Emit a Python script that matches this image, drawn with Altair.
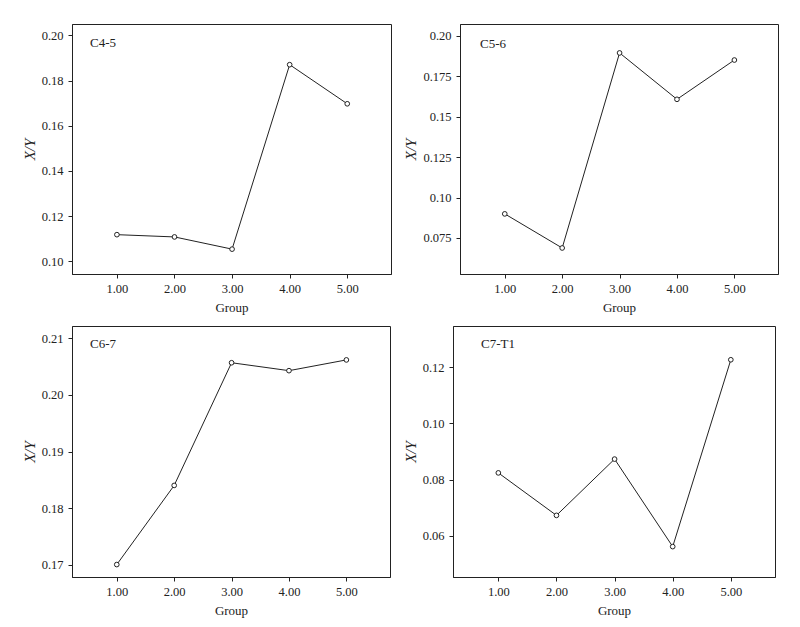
import altair as alt
import pandas as pd

groups = [1, 2, 3, 4, 5]
panel_names = ["C4-5", "C5-6", "C6-7", "C7-T1"]
c45 = [0.1118, 0.1108, 0.1054, 0.1870, 0.1697]
c56 = [0.0899, 0.0688, 0.1895, 0.1608, 0.1851]
c67 = [0.1700, 0.1840, 0.2057, 0.2043, 0.2062]
c7t1 = [0.0824, 0.0673, 0.0873, 0.0562, 0.1226]

y_domains = [[0.0944, 0.2050], [0.0527, 0.2074], [0.1678, 0.2122], [0.0454, 0.1346]]
y_ticks = [
    [0.10, 0.12, 0.14, 0.16, 0.18, 0.20],
    [0.075, 0.10, 0.125, 0.15, 0.175, 0.20],
    [0.17, 0.18, 0.19, 0.20, 0.21],
    [0.06, 0.08, 0.10, 0.12],
]
x_ticks = [1, 2, 3, 4, 5]
x_domain = [0.22, 5.76]

FONT = "Liberation Serif"
INK = "#222222"


def panel(name, values, ydom, yt, w, h, lx, ly):
    df = pd.DataFrame({"Group": groups, "XY": values})
    x = alt.X(
        "Group:Q",
        scale=alt.Scale(domain=x_domain, nice=False, zero=False),
        axis=alt.Axis(values=x_ticks, format=".2f", title="Group"),
    )
    y = alt.Y(
        "XY:Q",
        scale=alt.Scale(domain=ydom, nice=False, zero=False),
        axis=alt.Axis(
            values=yt,
            title="X/Y",
            titleFontStyle="italic",
            titleFontSize=15,
            labelExpr="round(datum.value*1000) % 10 == 0 ? format(datum.value, '.2f') : format(datum.value, '.3f')",
        ),
    )
    base = alt.Chart(df)
    line = base.mark_line(color=INK, strokeWidth=1).encode(x=x, y=y)
    pts = base.mark_point(
        shape="circle", size=22, filled=False, stroke=INK, strokeWidth=1, fill="white", fillOpacity=1, opacity=1
    ).encode(x=x, y=y)
    lab = (
        alt.Chart(pd.DataFrame({"t": [name]}))
        .mark_text(align="left", baseline="middle", font=FONT, fontSize=13, color=INK)
        .encode(text="t:N", x=alt.value(lx), y=alt.value(ly))
    )
    return alt.layer(line, pts, lab).properties(width=w, height=h)


p1 = panel(panel_names[0], c45, y_domains[0], y_ticks[0], 319, 250, 18, 19)
p2 = panel(panel_names[1], c56, y_domains[1], y_ticks[1], 318, 250, 20, 20)
p3 = panel(panel_names[2], c67, y_domains[2], y_ticks[2], 318, 251, 18, 18)
p4 = panel(panel_names[3], c7t1, y_domains[3], y_ticks[3], 322, 251, 28, 18)

chart = (
    alt.vconcat(
        alt.hconcat(p1, p2, spacing=11),
        alt.hconcat(p3, p4, spacing=11),
        spacing=10,
    )
    .properties(padding={"left": 13, "top": 15, "right": 5, "bottom": 5})
    .configure_view(stroke=INK, strokeWidth=1)
    .configure_axis(
        labelFont=FONT,
        titleFont=FONT,
        labelFontSize=12.5,
        titleFontSize=13,
        titleFontWeight="normal",
        labelColor=INK,
        titleColor=INK,
        domainColor=INK,
        tickColor=INK,
        tickSize=4,
        labelPadding=4,
        grid=False,
    )
    .configure_axisY(titlePadding=4, labelPadding=5)
    .configure_axisX(titlePadding=7)
)

chart.save("out.html", embed_options={"renderer": "svg", "actions": False})
